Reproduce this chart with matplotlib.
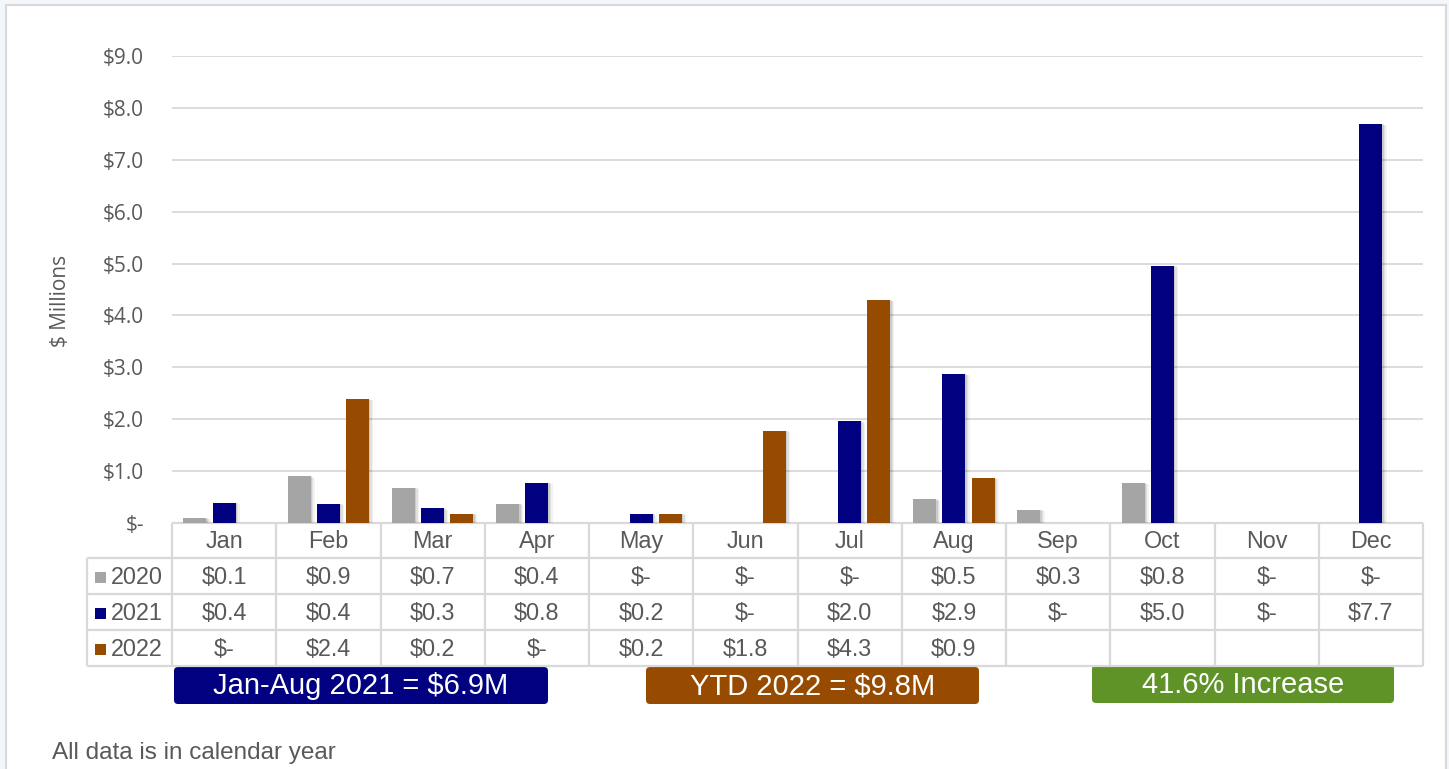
import numpy as np
import matplotlib
matplotlib.use("Agg")
import matplotlib.pyplot as plt
from matplotlib.patches import Rectangle, FancyBboxPatch
import matplotlib.patheffects as pe

# data ($ millions)
months = ['Jan', 'Feb', 'Mar', 'Apr', 'May', 'Jun', 'Jul', 'Aug', 'Sep', 'Oct', 'Nov', 'Dec']
years = ['2020', '2021', '2022']
v2020 = [0.10, 0.90, 0.68, 0.37, 0.0, 0.0, 0.0, 0.46, 0.26, 0.77, 0.0, 0.0]
v2021 = [0.39, 0.37, 0.28, 0.78, 0.18, 0.0, 1.96, 2.87, 0.0, 4.96, 0.0, 7.69]
v2022 = [0.0, 2.39, 0.18, 0.0, 0.18, 1.78, 4.30, 0.87, np.nan, np.nan, np.nan, np.nan]
colors = ['#a5a5a5', '#000080', '#974b00']
yticks = np.arange(0, 10)
notes = ['Jan-Aug 2021 = $6.9M', 'YTD 2022 = $9.8M', '41.6% Increase']
note_colors = ['#000080', '#974b00', '#5f9328']
footer = 'All data is in calendar year'

W, H = 1449, 769
TXT = '#595959'
GRID = '#d9d9d9'

fig = plt.figure(figsize=(W / 100, H / 100), dpi=100, facecolor='#f3f6fb')

# overlay in pixel coords (y downwards) for frame, table and notes
ov = fig.add_axes([0, 0, 1, 1], zorder=0)
ov.set_xlim(0, W)
ov.set_ylim(H, 0)
ov.axis('off')
ov.add_patch(Rectangle((6, 5), 1440, 800, facecolor='white', edgecolor=GRID, lw=1.5))

left, right, top, base = 172, 1423, 56, 523
ax = fig.add_axes([left / W, 1 - base / H, (right - left) / W, (base - top) / H], zorder=2)
ax.patch.set_alpha(0)
ax.set_xlim(-0.5, 11.5)
ax.set_ylim(0, 9)
for s in ax.spines.values():
    s.set_visible(False)
ax.set_xticks([])
ax.set_yticks(yticks)
ax.set_yticklabels(['$-' if t == 0 else '$%.1f' % t for t in yticks],
                   fontfamily='Open Sans', fontsize=15, color=TXT)
ax.tick_params(axis='y', length=0, pad=20)
for t in yticks[1:]:
    ax.axhline(t, color=GRID, lw=1.3, zorder=0)

x = np.arange(len(months))
offs = [-0.28, 0.0, 0.28]
# soft shadow: a few faint offset copies
shadow = [pe.SimplePatchShadow(offset=(3, -1), shadow_rgbFace='#000000', alpha=0.05),
          pe.SimplePatchShadow(offset=(2, -0.5), shadow_rgbFace='#000000', alpha=0.07),
          pe.SimplePatchShadow(offset=(1, 0), shadow_rgbFace='#000000', alpha=0.09),
          pe.Normal()]
for vals, c, o in zip([v2020, v2021, v2022], colors, offs):
    vals = np.array(vals, dtype=float)
    m = np.nan_to_num(vals) > 0
    bars = ax.bar(x[m] + o, vals[m], width=0.22, color=c, zorder=3)
    for b in bars:
        b.set_path_effects(shadow)

# data table
colw = (right - left) / len(months)
rows = [523, 558, 594, 630, 666]
lab_left = 87
lk = dict(color=GRID, lw=1.6, solid_capstyle='butt')
ov.plot([left, right], [rows[0], rows[0]], **lk)
for ry in rows[1:]:
    ov.plot([lab_left, right], [ry, ry], **lk)
for k in range(len(months) + 1):
    xx = left + k * colw
    ov.plot([xx, xx], [rows[0], rows[-1]], **lk)
ov.plot([lab_left, lab_left], [rows[1], rows[-1]], **lk)

tk = dict(fontfamily='Liberation Sans', fontsize=16.8, color=TXT, ha='center', va='center')
for i, mth in enumerate(months):
    ov.text(left + (i + 0.5) * colw, (rows[0] + rows[1]) / 2 + 1, mth, **tk)
for r, (yr, vals, c) in enumerate(zip(years, [v2020, v2021, v2022], colors)):
    cy = (rows[r + 1] + rows[r + 2]) / 2 + 1
    ov.add_patch(Rectangle((95, cy - 5.5), 11, 11, facecolor=c, edgecolor='none'))
    ov.text(111, cy, yr, fontfamily='Liberation Sans', fontsize=16.8, color=TXT, ha='left', va='center')
    for i, v in enumerate(vals):
        if np.isnan(v):
            continue
        s = '$-' if v < 0.05 else '$%.1f' % v
        ov.text(left + (i + 0.5) * colw, cy, s, **tk)

# summary boxes
boxes = [(174, 667, 548, 704), (646, 667, 979, 704), (1092, 665, 1394, 703)]
for (x0, y0, x1, y1), s, c in zip(boxes, notes, note_colors):
    ov.add_patch(FancyBboxPatch((x0 + 4, y0 + 4), x1 - x0 - 8, y1 - y0 - 8,
                                boxstyle='round,pad=4', facecolor=c, edgecolor='none'))
    ov.text((x0 + x1) / 2, (y0 + y1) / 2 + 1, s, fontfamily='Liberation Sans', fontsize=21,
            color='white', ha='center', va='center')

fig.text(61 / W, 1 - 301 / H, '$ Millions', rotation=90, fontfamily='Open Sans', fontsize=15,
         color=TXT, ha='center', va='center')
ov.text(52, 753, footer, fontfamily='Liberation Sans', fontsize=17.5, color=TXT, ha='left', va='center')

fig.savefig('out.png', dpi=100, facecolor=fig.get_facecolor())
